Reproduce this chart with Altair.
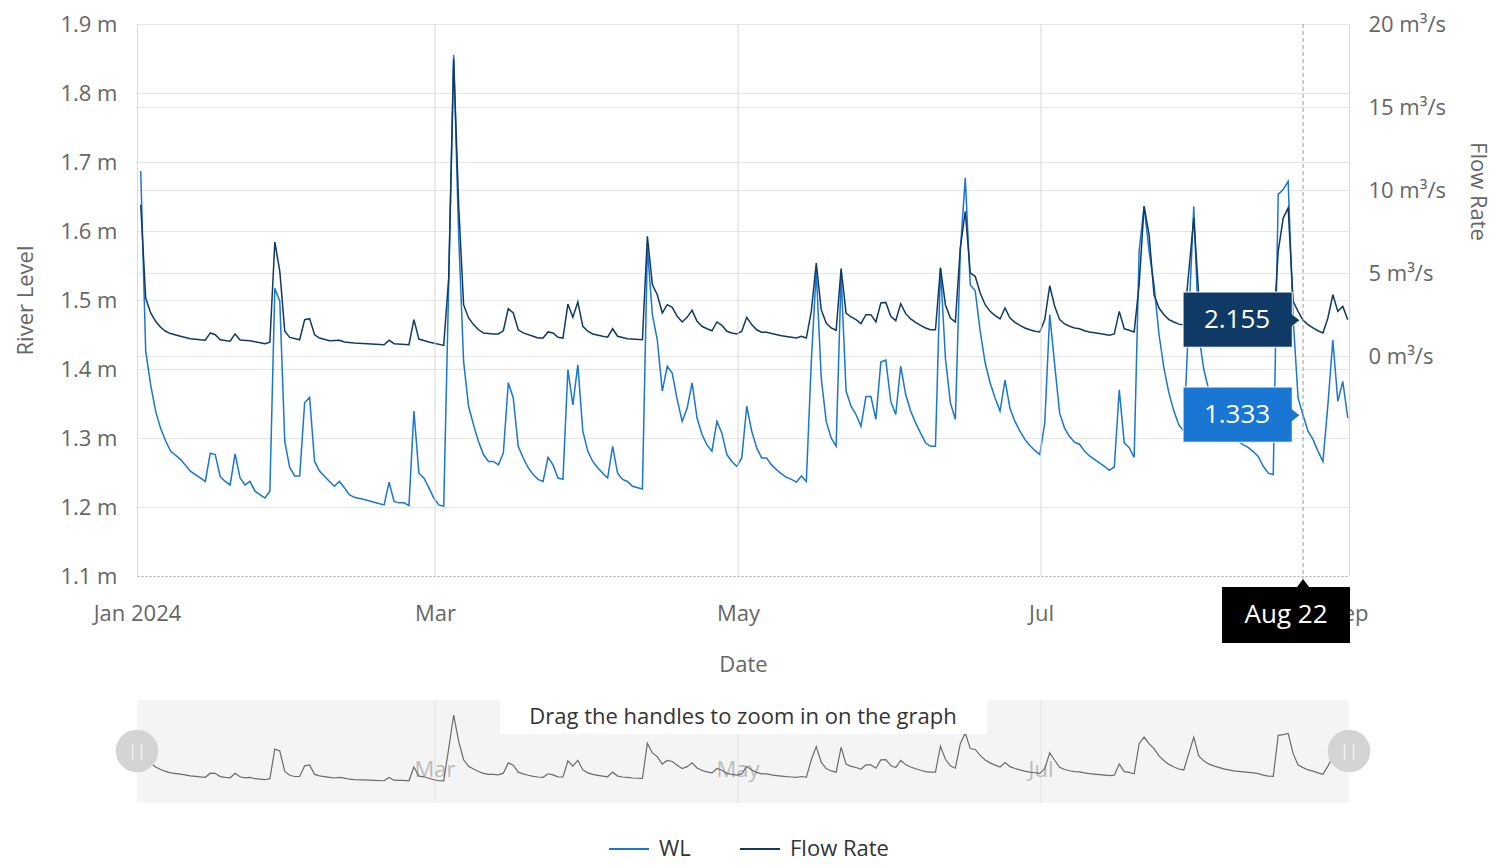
import altair as alt
import pandas as pd

# ---------------- data ----------------
# day index: 0 = 1 Jan 2024 ; samples are taken late in the day
wl_day = [
    0, 1, 2, 3, 4, 5, 6, 8, 10, 13,
    14, 15, 16, 17, 18, 19, 20, 21, 22, 23,
    25, 26, 27, 28, 29, 30, 31, 32, 33, 34,
    35, 36, 38, 39, 40, 41, 42, 43, 45, 47,
    49, 50, 51, 52, 53, 54, 55, 56, 57, 58,
    59, 60, 61, 62, 63, 64, 65, 66, 67, 68,
    69, 70, 71, 72, 73, 74, 75, 76, 77, 78,
    79, 80, 81, 82, 83, 84, 85, 86, 87, 88,
    89, 90, 91, 92, 93, 94, 95, 96, 97, 98,
    99, 101, 102, 103, 104, 105, 106, 107, 108, 109,
    110, 111, 112, 113, 114, 115, 116, 117, 118, 119,
    120, 121, 122, 123, 124, 125, 126, 127, 128, 129,
    130, 131, 132, 133, 134, 135, 136, 137, 138, 139,
    140, 141, 142, 143, 144, 145, 146, 147, 148, 149,
    150, 151, 152, 153, 154, 155, 156, 157, 158, 159,
    160, 161, 162, 163, 164, 165, 166, 167, 168, 169,
    170, 171, 172, 173, 174, 175, 176, 177, 178, 179,
    180, 181, 182, 183, 184, 185, 186, 187, 188, 189,
    190, 191, 192, 193, 194, 195, 196, 197, 198, 199,
    200, 201, 202, 203, 204, 205, 206, 207, 208, 209,
    210, 212, 213, 214, 215, 216, 217, 218, 219, 220,
    221, 222, 223, 224, 225, 226, 227, 228, 229, 230,
    231, 232, 233, 234, 235, 236, 237, 238, 239, 240,
    241, 242, 243,
]
wl_val = [
    1.687, 1.426, 1.377, 1.339, 1.314, 1.296, 1.281, 1.269, 1.252, 1.237,
    1.278, 1.276, 1.244, 1.237, 1.232, 1.277, 1.242, 1.232, 1.237, 1.223,
    1.213, 1.223, 1.517, 1.498, 1.295, 1.257, 1.245, 1.245, 1.351, 1.359,
    1.266, 1.252, 1.237, 1.230, 1.237, 1.228, 1.218, 1.214, 1.211, 1.207,
    1.203, 1.236, 1.208, 1.206, 1.206, 1.202, 1.339, 1.249, 1.242, 1.228,
    1.213, 1.203, 1.201, 1.522, 1.855, 1.595, 1.411, 1.346, 1.319, 1.295,
    1.276, 1.266, 1.266, 1.261, 1.278, 1.380, 1.358, 1.288, 1.271, 1.257,
    1.247, 1.240, 1.237, 1.272, 1.261, 1.242, 1.240, 1.399, 1.348, 1.406,
    1.310, 1.281, 1.266, 1.257, 1.249, 1.242, 1.288, 1.249, 1.240, 1.237,
    1.230, 1.226, 1.575, 1.479, 1.442, 1.368, 1.404, 1.394, 1.356, 1.324,
    1.343, 1.380, 1.329, 1.305, 1.290, 1.281, 1.324, 1.307, 1.276, 1.266,
    1.259, 1.271, 1.346, 1.310, 1.286, 1.271, 1.271, 1.261, 1.254, 1.248,
    1.243, 1.240, 1.236, 1.245, 1.237, 1.411, 1.542, 1.387, 1.324, 1.300,
    1.288, 1.535, 1.368, 1.346, 1.334, 1.317, 1.360, 1.360, 1.327, 1.410,
    1.413, 1.353, 1.334, 1.404, 1.363, 1.339, 1.322, 1.307, 1.293, 1.288,
    1.288, 1.546, 1.416, 1.351, 1.327, 1.571, 1.677, 1.522, 1.513, 1.455,
    1.409, 1.380, 1.358, 1.339, 1.384, 1.343, 1.324, 1.310, 1.298, 1.289,
    1.282, 1.276, 1.322, 1.479, 1.406, 1.336, 1.314, 1.302, 1.294, 1.291,
    1.281, 1.274, 1.269, 1.264, 1.259, 1.253, 1.258, 1.370, 1.293, 1.286,
    1.272, 1.571, 1.636, 1.571, 1.522, 1.450, 1.401, 1.365, 1.339, 1.319,
    1.310, 1.636, 1.450, 1.400, 1.370, 1.350, 1.335, 1.320, 1.310, 1.300,
    1.295, 1.290, 1.286, 1.280, 1.273, 1.259, 1.249, 1.247, 1.653, 1.660,
    1.672, 1.474, 1.358, 1.333, 1.310, 1.298, 1.281, 1.266, 1.348, 1.442,
    1.353, 1.382, 1.329,
]

fr_day = [
    0, 1, 2, 3, 4, 5, 6, 8, 10, 13,
    14, 15, 16, 18, 19, 20, 22, 25, 26, 27,
    28, 29, 30, 32, 33, 34, 35, 36, 38, 40,
    41, 43, 49, 50, 51, 54, 55, 56, 58, 61,
    62, 63, 64, 65, 66, 67, 68, 69, 71, 72,
    73, 74, 75, 76, 77, 79, 80, 81, 82, 83,
    84, 85, 86, 87, 88, 89, 90, 91, 93, 94,
    95, 96, 98, 101, 102, 103, 104, 105, 106, 107,
    108, 109, 110, 111, 112, 113, 114, 115, 116, 117,
    118, 119, 120, 121, 122, 123, 124, 125, 126, 127,
    129, 131, 132, 133, 134, 135, 136, 137, 138, 139,
    140, 141, 142, 143, 144, 145, 146, 147, 148, 149,
    150, 151, 152, 153, 154, 155, 156, 157, 158, 159,
    160, 161, 162, 163, 164, 165, 166, 167, 168, 169,
    170, 171, 172, 173, 174, 175, 176, 177, 178, 179,
    180, 181, 182, 183, 184, 185, 186, 187, 188, 189,
    190, 191, 193, 195, 196, 197, 198, 199, 200, 201,
    202, 203, 204, 205, 206, 207, 208, 209, 210, 212,
    213, 214, 215, 216, 217, 218, 219, 220, 221, 222,
    223, 224, 225, 226, 227, 228, 229, 230, 231, 232,
    233, 234, 235, 236, 237, 238, 239, 240, 241, 242, 243,
]
fr_val = [
    9.11, 3.49, 2.59, 2.09, 1.73, 1.49, 1.35, 1.19, 1.04, 0.95,
    1.39, 1.28, 0.98, 0.89, 1.33, 0.96, 0.92, 0.74, 0.83, 6.87,
    5.10, 1.49, 1.12, 0.98, 2.19, 2.25, 1.28, 1.08, 0.92, 0.95,
    0.84, 0.78, 0.68, 0.95, 0.74, 0.68, 2.19, 1.02, 0.84, 0.64,
    4.70, 17.9, 9.11, 3.09, 2.29, 1.89, 1.58, 1.39, 1.33, 1.33,
    1.52, 2.85, 2.59, 1.58, 1.39, 1.19, 1.08, 1.08, 1.45, 1.39,
    1.13, 1.08, 3.13, 2.33, 3.25, 1.79, 1.49, 1.33, 1.19, 1.13,
    1.64, 1.19, 1.04, 0.98, 7.21, 4.30, 3.69, 2.59, 3.09, 2.93,
    2.39, 2.05, 2.33, 2.75, 2.09, 1.79, 1.64, 1.52, 2.05, 1.85,
    1.49, 1.39, 1.33, 1.49, 2.33, 1.89, 1.58, 1.43, 1.43, 1.35,
    1.22, 1.13, 1.08, 1.19, 1.08, 2.69, 5.60, 2.79, 1.99, 1.69,
    1.55, 5.26, 2.59, 2.35, 2.19, 1.95, 2.49, 2.49, 2.05, 3.19,
    3.23, 2.39, 2.13, 3.15, 2.55, 2.23, 2.03, 1.85, 1.69, 1.58,
    1.58, 5.32, 3.09, 2.29, 2.05, 6.51, 8.72, 5.00, 4.80, 3.80,
    3.09, 2.69, 2.43, 2.23, 2.89, 2.29, 2.03, 1.85, 1.69, 1.58,
    1.49, 1.45, 2.19, 4.23, 2.99, 2.19, 1.93, 1.79, 1.69, 1.64,
    1.52, 1.45, 1.35, 1.25, 1.33, 2.69, 1.64, 1.55, 1.45, 4.30,
    9.02, 7.31, 3.69, 2.89, 2.49, 2.19, 2.05, 1.92, 1.87, 8.31,
    3.69, 3.00, 2.60, 2.35, 2.15, 2.00, 1.85, 1.75, 1.65, 1.60,
    1.55, 1.50, 1.45, 1.40, 1.35, 1.35, 6.31, 8.31, 8.92, 3.30,
    2.69, 2.155, 1.89, 1.69, 1.52, 1.39, 2.29, 3.69, 2.69, 2.99, 2.19,
]

series_names = ["WL", "Flow Rate"]
series_colors = ["#1976d2", "#0f3a66"]

x_tick_day = [0, 60, 121, 182, 244]
x_tick_label = ["Jan 2024", "Mar", "May", "Jul", "Sep"]
grid_day = [60, 121, 182]
nav_tick_label = ["Mar", "May", "Jul"]
left_ticks = [1.1, 1.2, 1.3, 1.4, 1.5, 1.6, 1.7, 1.8, 1.9]
right_ticks = [0, 5, 10, 15, 20]

hover_day = 234
hover_label = "Aug 22"
hover_wl = "1.333"
hover_fr = "2.155"
hover_wl_val = 1.333
hover_fr_val = 2.155

drag_text = "Drag the handles to zoom in on the graph"

# ---------------- layout constants ----------------
SAMPLE_TIME = 0.75
X_END = 244
W, H = 1212, 779
MAIN_H = 552
NAV_TOP, NAV_BOT = 676, 779
FONT = "Open Sans"
FS = 22

wl_df = pd.DataFrame({"t": [d + SAMPLE_TIME for d in wl_day], "v": wl_val, "series": "WL"})
fr_df = pd.DataFrame({"t": [d + SAMPLE_TIME for d in fr_day], "v": fr_val, "series": "Flow Rate"})
grid_df = pd.DataFrame({"t": grid_day, "label": nav_tick_label})
ends_df = pd.DataFrame({"t": [0, X_END]})
bg_df = pd.DataFrame({"t": [0], "t2": [X_END]})
one_df = pd.DataFrame({"t": [0]})
hov_t = hover_day + SAMPLE_TIME
hov_wl_df = pd.DataFrame({"t": [hov_t], "v": [hover_wl_val], "label": [hover_wl]})
hov_fr_df = pd.DataFrame({"t": [hov_t], "v": [hover_fr_val], "label": [hover_fr]})
hov_x_df = pd.DataFrame({"t": [hov_t], "label": [hover_label]})

xscale = alt.Scale(domain=[0, X_END], nice=False, zero=False)
wl_scale = alt.Scale(domain=[1.1, 1.9], range=[MAIN_H, 0], nice=False, zero=False)
fr_scale = alt.Scale(domain=[-13.253, 20], range=[MAIN_H, 0], nice=False, zero=False)
nav_scale = alt.Scale(domain=[0.982, 2.004], range=[NAV_BOT, NAV_TOP], nice=False, zero=False)
color_scale = alt.Scale(domain=series_names, range=series_colors)

label_expr = " : ".join(
    f"datum.value == {d} ? '{l}'" for d, l in zip(x_tick_day, x_tick_label)
) + " : ''"

x_axis = alt.Axis(
    values=x_tick_day, labelExpr=label_expr, title="Date", grid=False,
    ticks=False, tickSize=0, domain=True, domainColor="#aaaaaa", domainDash=[2, 2],
    offset=-(H - MAIN_H), labelPadding=37, labelBaseline="middle",
    labelFlush=False, labelOverlap=False, labelFontSize=FS, labelColor="#666666",
    labelFont=FONT, titleFont=FONT,
    titleFontSize=FS, titleColor="#666666", titleFontWeight="normal",
    titleY=88, titleBaseline="middle",
)

left_axis = alt.Axis(
    orient="left", values=left_ticks, labelExpr="format(datum.value, '.1f') + ' m'",
    grid=True, gridColor="#e6e6e6",
    gridOpacity={"condition": {"test": "datum.value < 1.15", "value": 0}, "value": 1},
    ticks=False, tickSize=0, domain=True, domainColor="#d9d9d9",
    labelPadding=20, labelFontSize=FS, labelColor="#666666", labelOverlap=False,
    labelFont=FONT, titleFont=FONT,
    title="River Level", titleFontSize=FS, titleColor="#666666", titleFontWeight="normal",
    titleX=-112, titleY=276, titleAngle=270, titleAlign="center", titleBaseline="middle",
)

right_axis = alt.Axis(
    orient="right", values=right_ticks, labelExpr="datum.value + ' m³/s'",
    grid=True, gridColor="#e6e6e6", ticks=False, tickSize=0, domain=True,
    domainColor="#d9d9d9", labelPadding=19, labelFontSize=FS, labelColor="#666666",
    labelOverlap=False, labelFont=FONT, titleFont=FONT,
    title="Flow Rate", titleFontSize=FS, titleColor="#666666", titleFontWeight="normal",
    titleX=128, titleY=167, titleAngle=90, titleAlign="center", titleBaseline="middle",
)

legend = alt.Legend(
    orient="none", legendX=471, legendY=804, direction="horizontal", title=None,
    symbolType="stroke", symbolSize=1600, symbolStrokeWidth=2,
    labelFontSize=FS, labelColor="#333333", labelFont=FONT, labelOffset=9,
    columnPadding=45,
)

X = lambda: alt.X("t:Q", scale=xscale, axis=x_axis)

# ---------------- navigator ----------------
nav_bg = alt.Chart(bg_df).mark_rect(color="#f4f4f4").encode(
    x=X(), x2="t2:Q", y=alt.value(NAV_TOP), y2=alt.value(NAV_BOT),
)
nav_grid = alt.Chart(grid_df).mark_rule(color="#e2e2e2", strokeWidth=1).encode(
    x=X(), y=alt.value(NAV_TOP), y2=alt.value(NAV_BOT)
)
nav_labels = alt.Chart(grid_df).mark_text(
    color="#bbbbbb", fontSize=FS, font=FONT, align="center", baseline="middle"
).encode(x=X(), y=alt.value(746), text="label:N")
nav_line = alt.Chart(wl_df).mark_line(color="#6b6b6b", strokeWidth=1.2).encode(
    x=X(), y=alt.Y("v:Q", scale=nav_scale, axis=None)
)
drag_box = alt.Chart(one_df).mark_rect(color="white").encode(
    x=alt.value(363), x2=alt.value(850), y=alt.value(NAV_TOP), y2=alt.value(710)
)
drag_label = alt.Chart(one_df).mark_text(
    text=drag_text, fontSize=FS, font=FONT, color="#333333", align="center", baseline="middle"
).encode(x=alt.value(606), y=alt.value(693))
handles = alt.Chart(ends_df).mark_point(
    shape="circle", filled=True, size=1810, color="#d4d4d4", opacity=1
).encode(x=X(), y=alt.value(727))
handle_marks = alt.Chart(ends_df).mark_text(
    text="||", fontSize=16, color="#f4f4f4", align="center", baseline="middle"
).encode(x=X(), y=alt.value(727))

# ---------------- main plot ----------------
main_grid = alt.Chart(grid_df).mark_rule(color="#d9d9d9", strokeWidth=1).encode(
    x=X(), y=alt.value(0), y2=alt.value(MAIN_H)
)
wl_line = alt.Chart(wl_df).mark_line(strokeWidth=1.5).encode(
    x=X(),
    y=alt.Y("v:Q", scale=wl_scale, axis=left_axis),
    color=alt.Color("series:N", scale=color_scale, legend=legend),
)
fr_line = alt.Chart(fr_df).mark_line(strokeWidth=1.5).encode(
    x=X(),
    y=alt.Y("v:Q", scale=fr_scale, axis=right_axis),
    color=alt.Color("series:N", scale=color_scale, legend=legend),
)

crosshair = alt.Chart(hov_x_df).mark_rule(
    color="#999999", strokeDash=[4, 3], strokeWidth=1
).encode(x=X(), y=alt.value(0), y2=alt.value(MAIN_H + 3))

tip_path = "M-2,-0.47L-0.18,-0.47L-0.18,-0.1L-0.05,0L-0.18,0.1L-0.18,0.45L-2,0.45Z"
fr_tip = alt.Chart(hov_fr_df).mark_point(
    shape=tip_path, size=14400, filled=True, color=series_colors[1], opacity=1,
    stroke="white", strokeWidth=1,
).encode(x=X(), y=alt.Y("v:Q", scale=fr_scale, axis=None))
fr_tip_text = alt.Chart(hov_fr_df).mark_text(
    fontSize=26, font=FONT, color="white", align="center", baseline="middle", dx=-66
).encode(x=X(), y=alt.Y("v:Q", scale=fr_scale, axis=None), text="label:N")
wl_tip = alt.Chart(hov_wl_df).mark_point(
    shape=tip_path, size=14400, filled=True, color=series_colors[0], opacity=1,
    stroke="white", strokeWidth=1,
).encode(x=X(), y=alt.Y("v:Q", scale=wl_scale, axis=None))
wl_tip_text = alt.Chart(hov_wl_df).mark_text(
    fontSize=26, font=FONT, color="white", align="center", baseline="middle", dx=-66
).encode(x=X(), y=alt.Y("v:Q", scale=wl_scale, axis=None), text="label:N")

date_path = "M-1.35,0.133L-0.1,0.133L0,0L0.1,0.133L0.783,0.133L0.783,1.067L-1.35,1.067Z"
date_box = alt.Chart(hov_x_df).mark_point(
    shape=date_path, size=14400, filled=True, color="black", opacity=1
).encode(x=X(), y=alt.value(MAIN_H + 3))
date_text = alt.Chart(hov_x_df).mark_text(
    fontSize=26, font=FONT, color="white", align="center", baseline="middle", dx=-17
).encode(x=X(), y=alt.value(591), text="label:N")

chart = alt.layer(
    wl_line, fr_line,
    nav_bg, nav_grid, nav_labels, nav_line, drag_box, drag_label, handles, handle_marks,
    main_grid, crosshair,
    fr_tip, fr_tip_text, wl_tip, wl_tip_text, date_box, date_text,
).resolve_scale(y="independent").properties(
    width=W, height=H,
    autosize=alt.AutoSizeParams(type="none"),
    padding={"left": 129, "top": 16, "right": 144, "bottom": 62},
).configure(font=FONT).configure_view(stroke=None)

chart.save("out.html", embed_options={"renderer": "svg", "actions": False})
